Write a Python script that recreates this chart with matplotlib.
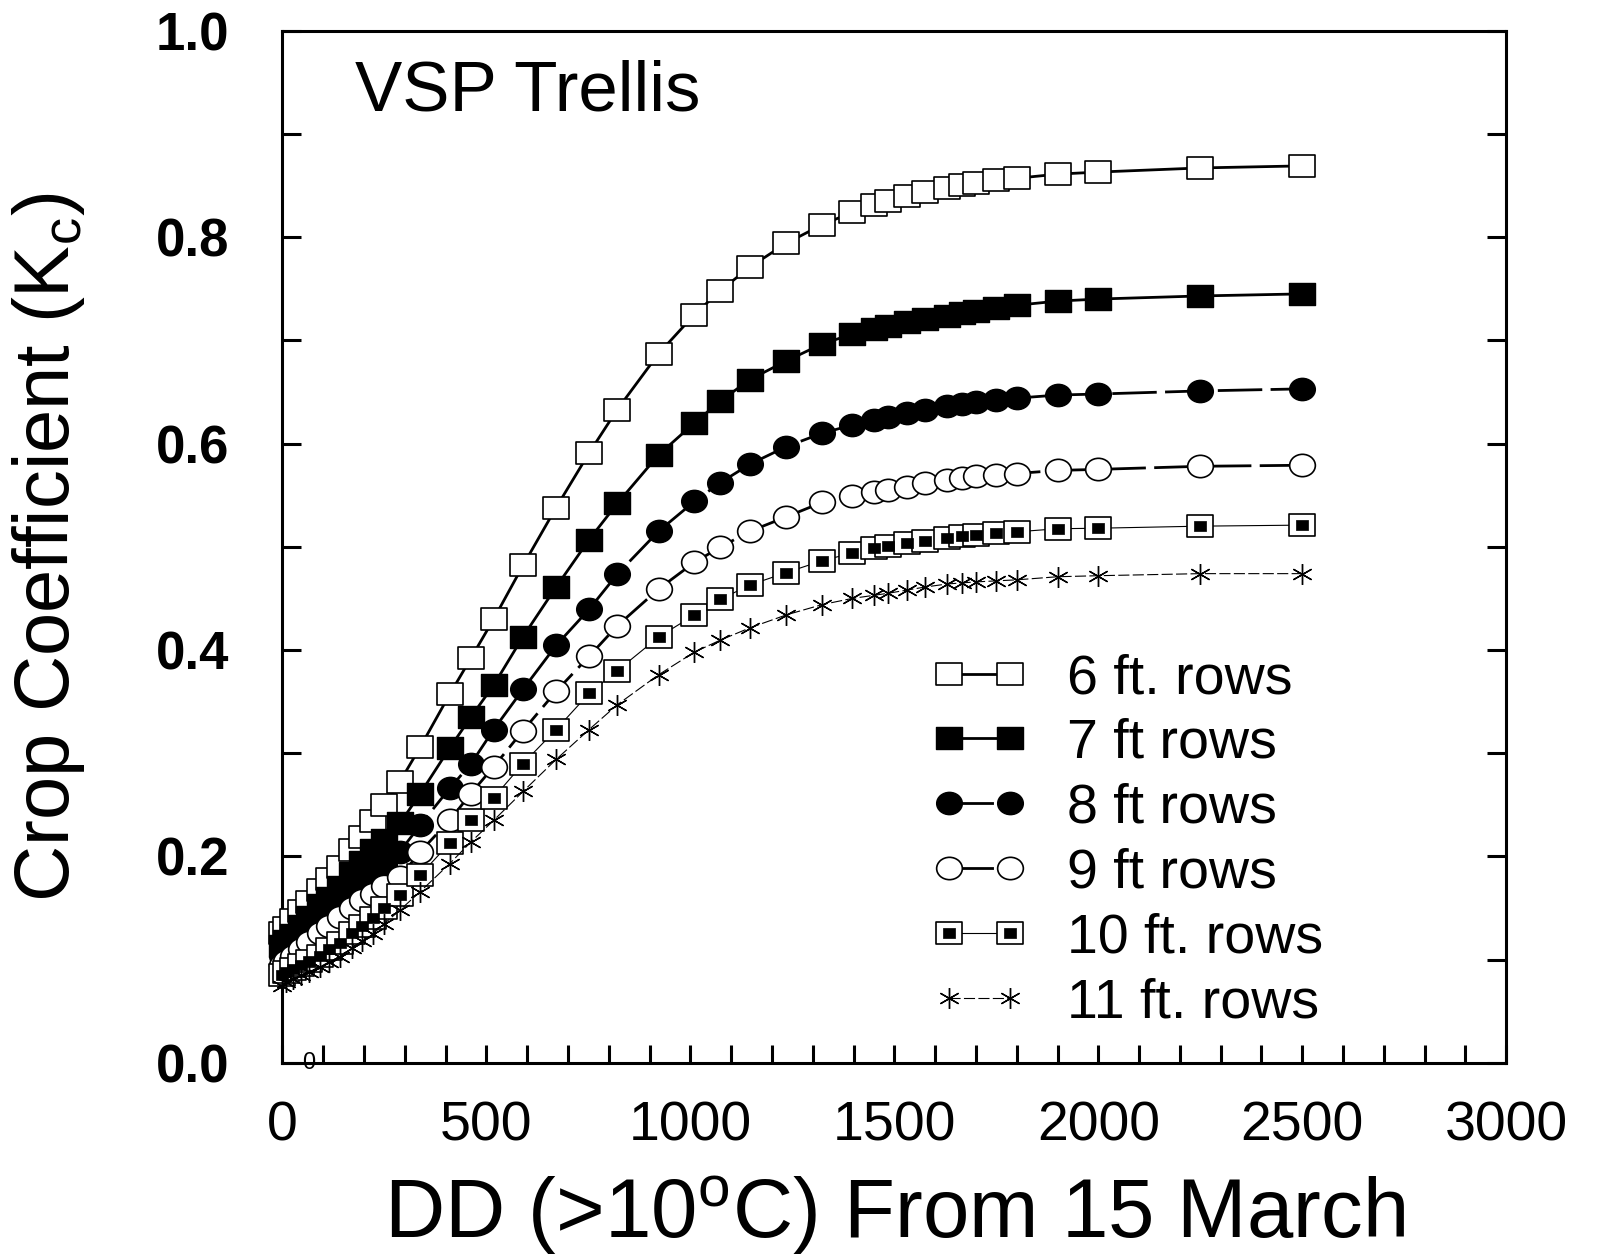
import numpy as np
import matplotlib
matplotlib.use("Agg")
import matplotlib.pyplot as plt
from matplotlib.path import Path
from matplotlib.transforms import Affine2D
from matplotlib.legend_handler import HandlerTuple

plt.rcParams['font.family'] = ['Liberation Sans', 'DejaVu Sans']
plt.rcParams['mathtext.fontset'] = 'custom'
plt.rcParams['mathtext.rm'] = 'Liberation Sans'
plt.rcParams['mathtext.it'] = 'Liberation Sans'

# degree days (>10 C) from 15 March
dd = [0, 10, 25, 45, 65, 92, 115, 141, 170, 195, 222, 250, 288, 338, 410, 462,
      518, 590, 671, 752, 821, 922, 1010, 1073, 1146, 1235, 1323, 1397, 1450,
      1485, 1530, 1575, 1630, 1665, 1700, 1750, 1800, 1900, 2000, 2250, 2500]

kc_6ft = [0.126, 0.131, 0.138, 0.147, 0.156, 0.168, 0.178, 0.190, 0.206, 0.219,
          0.234, 0.250, 0.2725, 0.306, 0.357, 0.392, 0.430, 0.482, 0.538, 0.591,
          0.633, 0.687, 0.725, 0.748, 0.771, 0.794, 0.812, 0.824, 0.831, 0.835,
          0.840, 0.844, 0.848, 0.850, 0.852, 0.855, 0.857, 0.861, 0.863, 0.867, 0.869]
kc_7ft = [0.113, 0.118, 0.124, 0.133, 0.141, 0.153, 0.160, 0.170, 0.184, 0.195,
          0.206, 0.216, 0.232, 0.261, 0.305, 0.335, 0.366, 0.413, 0.461, 0.507,
          0.542, 0.589, 0.620, 0.641, 0.662, 0.680, 0.6965, 0.706, 0.711, 0.714,
          0.718, 0.721, 0.724, 0.726, 0.728, 0.731, 0.734, 0.738, 0.740, 0.743, 0.745]
kc_8ft = [0.104, 0.109, 0.115, 0.122, 0.129, 0.138, 0.145, 0.153, 0.165, 0.174,
          0.182, 0.192, 0.2047, 0.2305, 0.266, 0.2896, 0.323, 0.362, 0.4045, 0.4395,
          0.4735, 0.515, 0.544, 0.562, 0.580, 0.597, 0.610, 0.618, 0.623, 0.626,
          0.630, 0.633, 0.636, 0.638, 0.640, 0.642, 0.644, 0.647, 0.648, 0.651, 0.653]
kc_9ft = [0.095, 0.099, 0.104, 0.110, 0.117, 0.126, 0.133, 0.141, 0.150, 0.158,
          0.164, 0.171, 0.180, 0.2047, 0.235, 0.261, 0.287, 0.322, 0.360, 0.394,
          0.4235, 0.459, 0.485, 0.4995, 0.515, 0.529, 0.543, 0.549, 0.553, 0.555,
          0.558, 0.5615, 0.565, 0.567, 0.569, 0.570, 0.571, 0.574, 0.575, 0.578, 0.579]
kc_10ft = [0.085, 0.088, 0.091, 0.095, 0.099, 0.104, 0.110, 0.116, 0.126, 0.133,
           0.140, 0.150, 0.163, 0.182, 0.213, 0.235, 0.257, 0.290, 0.323, 0.358,
           0.380, 0.4125, 0.434, 0.449, 0.463, 0.475, 0.4865, 0.494, 0.499, 0.501,
           0.504, 0.506, 0.509, 0.510, 0.511, 0.513, 0.5145, 0.5175, 0.518, 0.520, 0.521]
kc_11ft = [0.075, 0.078, 0.081, 0.085, 0.088, 0.093, 0.098, 0.103, 0.111, 0.118,
           0.125, 0.135, 0.148, 0.166, 0.193, 0.214, 0.235, 0.263, 0.294, 0.323,
           0.347, 0.376, 0.398, 0.4095, 0.4215, 0.434, 0.444, 0.450, 0.453, 0.455,
           0.458, 0.461, 0.464, 0.465, 0.466, 0.467, 0.468, 0.471, 0.472, 0.474, 0.474]

labels = ['6 ft. rows', '7 ft rows', '8 ft rows', '9 ft rows', '10 ft. rows', '11 ft. rows']

# slightly flattened marker shapes (the original figure is stretched sideways)
box = Affine2D().translate(-0.5, -0.5).scale(1, 0.85).transform_path(Path.unit_rectangle())
ellipse = Affine2D().scale(1, 0.87).transform_path(Path.unit_circle())
inner = Affine2D().translate(-0.5, -0.5).scale(1, 0.8).transform_path(Path.unit_rectangle())

fig = plt.figure(figsize=(15.98, 12.56), dpi=100)
ax = fig.add_axes([0.1767, 0.1537, 0.7659, 0.8219])

h6, = ax.plot(dd, kc_6ft, color='black', lw=2.0, marker=box, ms=18.5,
              mfc='white', mec='black', mew=1.2, clip_on=False, zorder=3)
h7, = ax.plot(dd, kc_7ft, color='black', lw=2.0, marker=box, ms=18.5,
              mfc='black', mec='black', mew=1.0, clip_on=False, zorder=3)
h8, = ax.plot(dd, kc_8ft, color='black', lw=2.0, ls=(0, (16, 3)), marker=ellipse, ms=18.5,
              mfc='black', mec='black', mew=1.0, clip_on=False, zorder=3)
h9, = ax.plot(dd, kc_9ft, color='black', lw=2.0, ls=(0, (16, 3)), marker=ellipse, ms=18.5,
              mfc='white', mec='black', mew=1.2, clip_on=False, zorder=3)
h10, = ax.plot(dd, kc_10ft, color='black', lw=0.8, marker=box, ms=18.5,
               mfc='white', mec='black', mew=1.2, clip_on=False, zorder=3)
h10b, = ax.plot(dd, kc_10ft, ls='none', marker=inner, ms=8.5,
                mfc='black', mec='black', mew=0.5, clip_on=False, zorder=3)
h11, = ax.plot(dd, kc_11ft, color='black', lw=0.8, ls=(0, (10, 3)), marker=(6, 2, 0),
               ms=15, mec='black', mew=1.0, clip_on=False, zorder=3)

ax.set_xlim(0, 3000)
ax.set_ylim(0, 1.0)
ax.set_xticks(np.arange(0, 3001, 500))
ax.set_xticks(np.arange(0, 3001, 100), minor=True)
ax.set_yticks(np.arange(0, 1.01, 0.2))
ax.set_yticks(np.arange(0, 1.01, 0.1), minor=True)
ax.set_yticklabels(['0.0', '0.2', '0.4', '0.6', '0.8', '1.0'])

for s in ax.spines.values():
    s.set_linewidth(2.2)

ax.tick_params(axis='x', which='both', direction='in', length=13, width=2.2,
               top=False, labelsize=40, pad=27)
ax.tick_params(axis='y', which='both', direction='in', length=14, width=2.2,
               right=True, labelsize=38, pad=38)
for t in ax.get_yticklabels():
    t.set_fontweight('bold')

ax.set_xlabel(r'DD (>10$^\mathrm{o}$C) From 15 March', fontsize=60, labelpad=15)
ax.set_ylabel(r'Crop Coefficient (K$_\mathrm{c}$)', fontsize=56)
ax.yaxis.set_label_coords(-0.160, 0.5)

ax.text(0.0594, 0.923, 'VSP Trellis', transform=ax.transAxes, fontsize=51,
        ha='left', va='baseline')
ax.text(65, 0.0, '0', fontsize=17, ha='center', va='center', clip_on=False)

ax.legend([h6, h7, h8, h9, (h10, h10b), h11], labels,
          handler_map={tuple: HandlerTuple(ndivide=1)},
          loc='upper left', bbox_to_anchor=(0.5313, 0.397), frameon=False,
          fontsize=40, numpoints=2, handlelength=1.70, handletextpad=0.71,
          labelspacing=0.23, borderpad=0, borderaxespad=0)

fig.savefig('out.png', dpi=100)
